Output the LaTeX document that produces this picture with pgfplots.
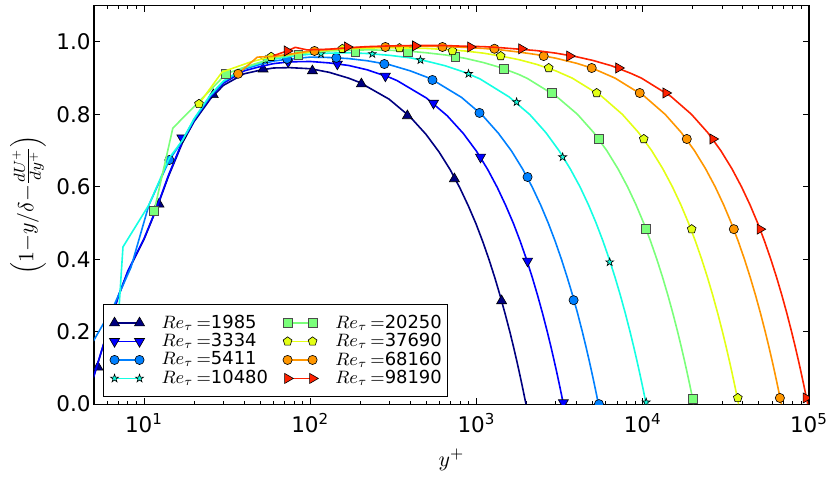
\documentclass[border=0pt]{standalone}
\usepackage[no-math]{fontspec}
\setmainfont{DejaVu Sans}
\usepackage{pgfplots}
\pgfplotsset{compat=1.18}
\usetikzlibrary{plotmarks}

\definecolor{c1}{rgb}{0,0,0.5}
\definecolor{c2}{rgb}{0,0,1}
\definecolor{c3}{rgb}{0,0.5,1}
\definecolor{c4}{rgb}{0.08,1,0.89}
\definecolor{c5}{rgb}{0.48,1,0.48}
\definecolor{c6}{rgb}{0.89,1,0.08}
\definecolor{c7}{rgb}{1,0.59,0}
\definecolor{c8}{rgb}{1,0.13,0}

\pgfdeclareplotmark{fstar}{%
  \pgfpathmoveto{\pgfpoint{0pt}{\pgfplotmarksize}}%
  \pgfpathlineto{\pgfpoint{-0.2245*\pgfplotmarksize}{0.309*\pgfplotmarksize}}%
  \pgfpathlineto{\pgfpoint{-0.951*\pgfplotmarksize}{0.309*\pgfplotmarksize}}%
  \pgfpathlineto{\pgfpoint{-0.3633*\pgfplotmarksize}{-0.118*\pgfplotmarksize}}%
  \pgfpathlineto{\pgfpoint{-0.588*\pgfplotmarksize}{-0.809*\pgfplotmarksize}}%
  \pgfpathlineto{\pgfpoint{0pt}{-0.382*\pgfplotmarksize}}%
  \pgfpathlineto{\pgfpoint{0.588*\pgfplotmarksize}{-0.809*\pgfplotmarksize}}%
  \pgfpathlineto{\pgfpoint{0.3633*\pgfplotmarksize}{-0.118*\pgfplotmarksize}}%
  \pgfpathlineto{\pgfpoint{0.951*\pgfplotmarksize}{0.309*\pgfplotmarksize}}%
  \pgfpathlineto{\pgfpoint{0.2245*\pgfplotmarksize}{0.309*\pgfplotmarksize}}%
  \pgfpathclose
  \pgfusepathqfillstroke
}

\pgfplotsset{
  ln/.style={#1, line width=0.8bp, mark=none},
  mA/.style={mark=triangle*, mark size=2.9bp, mark options={solid, fill=c1, draw=black, line width=0.3bp}},
  mB/.style={mark=triangle*, mark size=2.9bp, mark options={solid, fill=c2, draw=black, line width=0.3bp, rotate=180}},
  mC/.style={mark=*, mark size=2.3bp, mark options={solid, fill=c3, draw=black, line width=0.3bp}},
  mD/.style={mark=fstar, mark size=2.1bp, mark options={solid, fill=c4, draw=black, line width=0.3bp}},
  mE/.style={mark=square*, mark size=2.2bp, mark options={solid, fill=c5, draw=black!70, line width=0.3bp}},
  mF/.style={mark=pentagon*, mark size=2.3bp, mark options={solid, fill=c6, draw=black, line width=0.3bp}},
  mG/.style={mark=*, mark size=2.3bp, mark options={solid, fill=c7, draw=black, line width=0.3bp}},
  mH/.style={mark=triangle*, mark size=2.9bp, mark options={solid, fill=c8, draw=black, line width=0.3bp, rotate=-90}},
}

\begin{document}
\begin{tikzpicture}
\begin{axis}[
  at={(0,0)}, anchor=south west,
  width=357.5bp, height=199.2bp, scale only axis,
  xmode=log, xmin=5, xmax=1e5, ymin=0, ymax=1.1,
  xtick={10,100,1000,10000,100000},
  xticklabels={10\textsuperscript{1},10\textsuperscript{2},10\textsuperscript{3},10\textsuperscript{4},10\textsuperscript{5}},
  minor xtick={6,7,8,9,20,30,40,50,60,70,80,90,200,300,400,500,600,700,800,900,2000,3000,4000,5000,6000,7000,8000,9000,20000,30000,40000,50000,60000,70000,80000,90000},
  ytick={0,0.2,0.4,0.6,0.8,1.0},
  yticklabels={0.0,0.2,0.4,0.6,0.8,1.0},
  tick align=inside,
  major tick length=3bp, minor tick length=1.6bp,
  tick style={black, line width=0.5bp},
  axis line style={line width=0.6bp},
  tick label style={font=\fontsize{10.8}{12}\selectfont},
  xticklabel style={inner sep=0pt, anchor=north, yshift=-4.5bp},
  yticklabel style={inner sep=0pt, anchor=east, xshift=-1.5bp},
  xlabel={$y^+$},
  ylabel={$\Bigl(1{-}y/\delta{-}\frac{dU^+}{dy^+}\Bigr)$},
  label style={font=\fontsize{10.8}{13}\selectfont, inner sep=0pt},
  xlabel style={at={(axis description cs:0.5,-0.14)}, anchor=center},
  ylabel style={at={(axis description cs:-0.0923,0.5)}, anchor=center},
  clip marker paths=true,
  legend columns=2,
  legend cell align=left,
  legend image code/.code={\draw[#1] plot coordinates {(0bp,0bp) (12.5bp,0bp)};},
  legend style={at={(axis description cs:0.0126,0.0176)}, anchor=south west,
    draw=black, line width=0.5bp, fill=white,
    inner xsep=3bp, inner ysep=5bp,
    font=\fontsize{9}{10}\selectfont,
    nodes={inner sep=0pt},
    row sep=1.1bp,
    column sep=8.5bp,
    /tikz/every even column/.append style={column sep=7.5bp}},
]

% Re 1985
\addplot[ln=c1, forget plot] coordinates {(4.5,0.03) (5,0.078) (6,0.197) (7,0.297) (8,0.366) (10,0.455) (12,0.544) (14,0.628) (17,0.721) (20,0.780) (25,0.842) (30,0.880) (40,0.912) (50,0.922) (60,0.928) (75,0.929) (100,0.926) (130,0.916) (170,0.900) (198.5,0.888) (297.8,0.842) (397,0.794) (496.3,0.745) (595.5,0.696) (694.8,0.647) (794,0.597) (893.3,0.547) (992.5,0.498) (1091.8,0.448) (1191,0.398) (1290.3,0.348) (1389.5,0.298) (1488.8,0.248) (1588,0.199) (1667.4,0.159) (1746.8,0.119) (1806.4,0.089) (1865.9,0.059) (1905.6,0.039) (1945.3,0.019) (1965.2,0.009) (1985,0)};
\addplot[only marks, mA, forget plot] coordinates {(5.28,0.102) (12.3,0.552) (26.1,0.854) (52,0.925) (103,0.92) (203,0.884) (384,0.796) (736,0.622) (1416,0.285)};

% Re 3334
\addplot[ln=c2, forget plot] coordinates {(4.5,0.03) (5,0.079) (6,0.198) (7,0.298) (8,0.368) (10,0.457) (12,0.546) (14,0.631) (17,0.725) (20,0.784) (25,0.848) (30,0.886) (40,0.920) (50,0.932) (60,0.940) (75,0.945) (100,0.946) (130,0.942) (170,0.935) (220,0.923) (300,0.902) (333.4,0.893) (500.1,0.845) (666.8,0.796) (833.5,0.747) (1000.2,0.698) (1166.9,0.648) (1333.6,0.598) (1500.3,0.548) (1667,0.499) (1833.7,0.449) (2000.4,0.399) (2167.1,0.349) (2333.8,0.299) (2500.5,0.249) (2667.2,0.199) (2800.6,0.159) (2933.9,0.119) (3033.9,0.089) (3134,0.059) (3200.6,0.039) (3267.3,0.019) (3300.7,0.009) (3334,0)};
\addplot[only marks, mB, forget plot] coordinates {(16.9,0.735) (73.6,0.945) (145.5,0.939) (283,0.906) (551,0.831) (1057,0.682) (2028,0.395) (3330,0.004)};

% Re 5411
\addplot[ln=c3, forget plot] coordinates {(4.5,0.15) (5,0.177) (6.6,0.273) (8.35,0.378) (10.7,0.55) (14.2,0.674) (17,0.727) (20,0.786) (25,0.850) (30,0.890) (40,0.925) (50,0.938) (60,0.947) (75,0.953) (100,0.958) (130,0.957) (170,0.954) (220,0.948) (300,0.937) (400,0.920) (500,0.903) (541.1,0.896) (811.7,0.847) (1082.2,0.798) (1352.8,0.748) (1623.3,0.699) (1893.9,0.649) (2164.4,0.599) (2435,0.549) (2705.5,0.499) (2976,0.449) (3246.6,0.399) (3517,0.349) (3787.7,0.300) (4058,0.250) (4328.8,0.200) (4545,0.160) (4761.7,0.120) (4924,0.090) (5086,0.060) (5194.6,0.040) (5302.8,0.020) (5357,0.010) (5411,0)};
\addplot[only marks, mC, forget plot] coordinates {(14.2,0.674) (72.6,0.953) (143.5,0.956) (279,0.939) (543,0.895) (1042,0.804) (2028,0.627) (3837,0.287) (5450,0)};

% Re 10480
\addplot[ln=c4, forget plot] coordinates {(6.7,0.1) (7.47,0.434) (10.7,0.55) (14.2,0.68) (17,0.728) (20,0.788) (25,0.853) (30,0.892) (40,0.928) (50,0.942) (60,0.952) (75,0.960) (100,0.966) (130,0.969) (170,0.970) (220,0.968) (300,0.963) (400,0.956) (500,0.947) (650,0.934) (850,0.916) (1048,0.898) (1572,0.848) (2096,0.799) (2620,0.749) (3144,0.699) (3668,0.649) (4192,0.600) (4716,0.550) (5240,0.500) (5764,0.450) (6288,0.400) (6812,0.350) (7336,0.300) (7860,0.250) (8384,0.200) (8803,0.160) (9222,0.120) (9537,0.090) (9851,0.060) (10061,0.040) (10270,0.020) (10375,0.010) (10480,0)};
\addplot[only marks, mD, forget plot] coordinates {(53.6,0.95) (116,0.967) (236,0.967) (460,0.950) (895,0.912) (1742,0.834) (3297,0.682) (6324,0.392) (10480,0.005)};

% Re 20250
\addplot[ln=c5, forget plot] coordinates {(11.5,0.533) (14.9,0.762) (21.4,0.835) (31.2,0.912) (40,0.930) (50,0.944) (60,0.955) (75,0.963) (100,0.971) (130,0.975) (170,0.977) (220,0.978) (300,0.977) (400,0.974) (500,0.970) (650,0.964) (850,0.955) (1100,0.943) (1400,0.929) (1800,0.910) (2025,0.899) (3037.5,0.849) (4050,0.800) (5062.5,0.750) (6075,0.700) (7087.5,0.650) (8100,0.600) (9112.5,0.550) (10125,0.500) (11137.5,0.450) (12150,0.400) (13162.5,0.350) (14175,0.300) (15187.5,0.250) (16200,0.200) (17010,0.160) (17820,0.120) (18427.5,0.090) (19035,0.060) (19440,0.040) (19845,0.020) (20047.5,0.010) (20250,0)};
\addplot[only marks, mE, forget plot] coordinates {(11.5,0.533) (31.2,0.912) (84.7,0.964) (186.7,0.972) (384,0.972) (746,0.959) (1455,0.925) (2832,0.859) (5431,0.732) (10420,0.483) (20000,0.014)};

% Re 37690
\addplot[ln=c6, forget plot] coordinates {(21.4,0.829) (29.5,0.917) (44,0.945) (58.2,0.959) (75,0.965) (100,0.973) (130,0.978) (170,0.981) (220,0.983) (300,0.984) (400,0.983) (500,0.982) (650,0.979) (850,0.975) (1100,0.969) (1400,0.961) (1800,0.951) (2300,0.938) (3000,0.920) (3769,0.900) (5653.5,0.850) (7538,0.800) (9422.5,0.750) (11307,0.700) (13191.5,0.650) (15076,0.600) (16960.5,0.550) (18845,0.500) (20729.5,0.450) (22614,0.400) (24498.5,0.350) (26383,0.300) (28267.5,0.250) (30152,0.200) (31659.6,0.160) (33167.2,0.120) (34297.9,0.090) (35428.6,0.060) (36182.4,0.040) (36936.2,0.020) (37313.1,0.010) (37690,0)};
\addplot[only marks, mF, forget plot] coordinates {(21.4,0.829) (58.2,0.959) (156,0.981) (344,0.983) (716,0.975) (1398,0.961) (2718,0.928) (5280,0.859) (10140,0.732) (19700,0.483) (37300,0.017)};

% Re 68160
\addplot[ln=c7, forget plot] coordinates {(36.8,0.912) (48,0.958) (60,0.960) (75,0.966) (100,0.975) (130,0.979) (170,0.983) (220,0.986) (300,0.987) (400,0.988) (500,0.988) (650,0.987) (850,0.985) (1100,0.982) (1400,0.978) (1800,0.972) (2300,0.965) (3000,0.955) (4000,0.941) (5000,0.927) (6816,0.900) (10224,0.850) (13632,0.800) (17040,0.750) (20448,0.700) (23856,0.650) (27264,0.600) (30672,0.550) (34080,0.500) (37488,0.450) (40896,0.400) (44304,0.350) (47712,0.300) (51120,0.250) (54528,0.200) (57254,0.160) (59981,0.120) (62026,0.090) (64070,0.060) (65434,0.040) (66797,0.020) (67478,0.010) (68160,0)};
\addplot[only marks, mG, forget plot] coordinates {(36.8,0.912) (106,0.975) (283,0.986) (624,0.986) (1282,0.981) (2535,0.961) (4930,0.928) (9590,0.859) (18400,0.732) (35300,0.483) (66800,0.017)};

% Re 98190
\addplot[ln=c8, forget plot] coordinates {(60,0.962) (72.6,0.975) (81.2,0.985) (95.6,0.978) (130,0.980) (170,0.984) (220,0.987) (300,0.989) (400,0.990) (500,0.990) (650,0.990) (850,0.988) (1100,0.987) (1400,0.984) (1800,0.980) (2300,0.976) (3000,0.969) (4000,0.959) (5000,0.949) (6500,0.934) (8500,0.913) (9819,0.900) (14728.5,0.850) (19638,0.800) (24547.5,0.750) (29457,0.700) (34366.5,0.650) (39276,0.600) (44185.5,0.550) (49095,0.500) (54004.5,0.450) (58914,0.400) (63823.5,0.350) (68733,0.300) (73642.5,0.250) (78552,0.200) (82480,0.160) (86407,0.120) (89353,0.090) (92299,0.060) (94262,0.040) (96226,0.020) (97208,0.010) (98190,0)};
\addplot[only marks, mH, forget plot] coordinates {(72.6,0.975) (167,0.986) (429,0.989) (920,0.986) (1866,0.981) (3630,0.961) (7160,0.928) (13770,0.859) (26400,0.732) (50700,0.483) (95900,0.017)};

% legend (column-major order)
\addlegendimage{c1, line width=0.8bp, mA}
\addlegendentry{$Re_{\tau}\,{=}$1985}
\addlegendimage{c5, line width=0.8bp, mE}
\addlegendentry{$Re_{\tau}\,{=}$20250}
\addlegendimage{c2, line width=0.8bp, mB}
\addlegendentry{$Re_{\tau}\,{=}$3334}
\addlegendimage{c6, line width=0.8bp, mF}
\addlegendentry{$Re_{\tau}\,{=}$37690}
\addlegendimage{c3, line width=0.8bp, mC}
\addlegendentry{$Re_{\tau}\,{=}$5411}
\addlegendimage{c7, line width=0.8bp, mG}
\addlegendentry{$Re_{\tau}\,{=}$68160}
\addlegendimage{c4, line width=0.8bp, mD}
\addlegendentry{$Re_{\tau}\,{=}$10480}
\addlegendimage{c8, line width=0.8bp, mH}
\addlegendentry{$Re_{\tau}\,{=}$98190}
\end{axis}
\pgfresetboundingbox
\path[use as bounding box] (-47bp,-36.5bp) rectangle (368bp,202.05bp);
\end{tikzpicture}
\end{document}
